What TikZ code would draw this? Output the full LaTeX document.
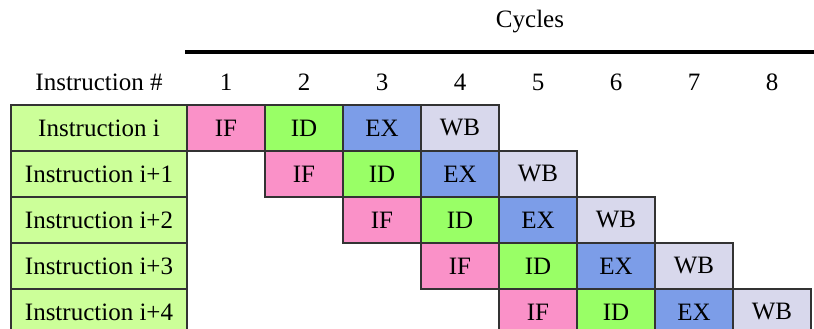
\documentclass[tikz,border=0pt]{standalone}
\usepackage{fontspec}
\setmainfont{Liberation Serif}
\usepackage{tikz}
\usetikzlibrary{positioning}

\definecolor{ifcol}{RGB}{250,145,200}
\definecolor{idcol}{RGB}{153,255,102}
\definecolor{excol}{RGB}{124,157,232}
\definecolor{wbcol}{RGB}{216,216,236}
\definecolor{instcol}{RGB}{204,255,153}

\begin{document}
\begin{tikzpicture}[x=1pt, y=-1pt, font=\fontsize{25}{28}\selectfont,
  cell/.style={shape=rectangle, draw=black!80, line width=1.3pt, minimum width=78pt, minimum height=46pt, inner sep=0pt},
  instbox/.style={cell, fill=instcol, minimum width=176pt},
  lbl/.style={inner sep=0pt, anchor=base}]
\useasboundingbox (0,0) rectangle (814,329);
\clip (0,0) rectangle (814,329);
% header
\node[lbl] (cycles) at (530,28) {Cycles};
\coordinate (barL) at (185,52);
\coordinate (barR) at (814,52);
\draw[line width=4pt] (barL) -- (barR);
\node[lbl] (insthead) at (99,91) {Instruction \#};
\foreach \k in {1,...,8}
  \node[lbl] (num\k) at ({148+78*\k},91) {\k};
% instruction column
\node[instbox] (inst0) at (99,128) {Instruction i};
\foreach \r in {1,...,4}
  \node[instbox] (inst\r) at (99,{128+46*\r}) {Instruction i+\r};
% pipeline stages
\foreach \r in {0,...,4}
  \foreach \s/\name/\col in {0/IF/ifcol, 1/ID/idcol, 2/EX/excol, 3/WB/wbcol}
    \node[cell, fill=\col] (st\r\s) at ({226+78*(\r+\s)},{128+46*\r}) {\name};
\end{tikzpicture}
\end{document}
